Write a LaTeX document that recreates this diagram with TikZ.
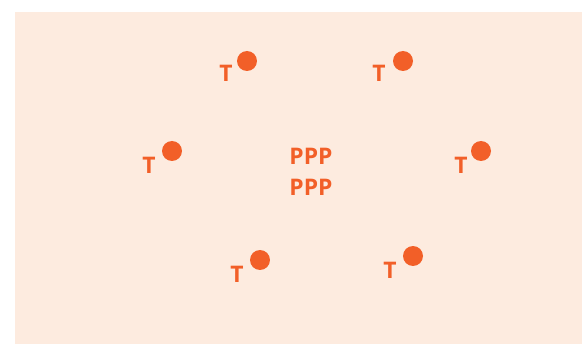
\documentclass[tikz,border=0pt]{standalone}
\usepackage{fontspec}
\setmainfont{Open Sans}
\usepackage{tikz}

\definecolor{peach}{RGB}{253,235,223}
\definecolor{tangerine}{RGB}{242,95,40}

\tikzset{
    dot/.style={circle, fill=tangerine, minimum size=0.4cm, inner sep=0pt},
    tlabel/.style={text=tangerine, font=\bfseries\fontsize{13}{15}\selectfont, inner sep=0pt}
}

\begin{document}
\begin{tikzpicture}[x=0.02cm, y=-0.02cm]
    \useasboundingbox (0,0) rectangle (582,344);
    \fill[peach] (15,12) rectangle (582,344);
    \node[dot] (d1) at (247,61) {};
    \node[tlabel] (t1) at (226,73) {T};
    \node[dot] (d2) at (403,61) {};
    \node[tlabel] (t2) at (379,73) {T};
    \node[dot] (d3) at (172,151) {};
    \node[tlabel] (t3) at (149,165) {T};
    \node[dot] (d4) at (481,151) {};
    \node[tlabel] (t4) at (461,165) {T};
    \node[dot] (d5) at (260,260) {};
    \node[tlabel] (t5) at (237,274) {T};
    \node[dot] (d6) at (413,256) {};
    \node[tlabel] (t6) at (390,270) {T};
    \node[tlabel] (p1) at (311,156) {PPP};
    \node[tlabel] (p2) at (311,187) {PPP};
\end{tikzpicture}
\end{document}
